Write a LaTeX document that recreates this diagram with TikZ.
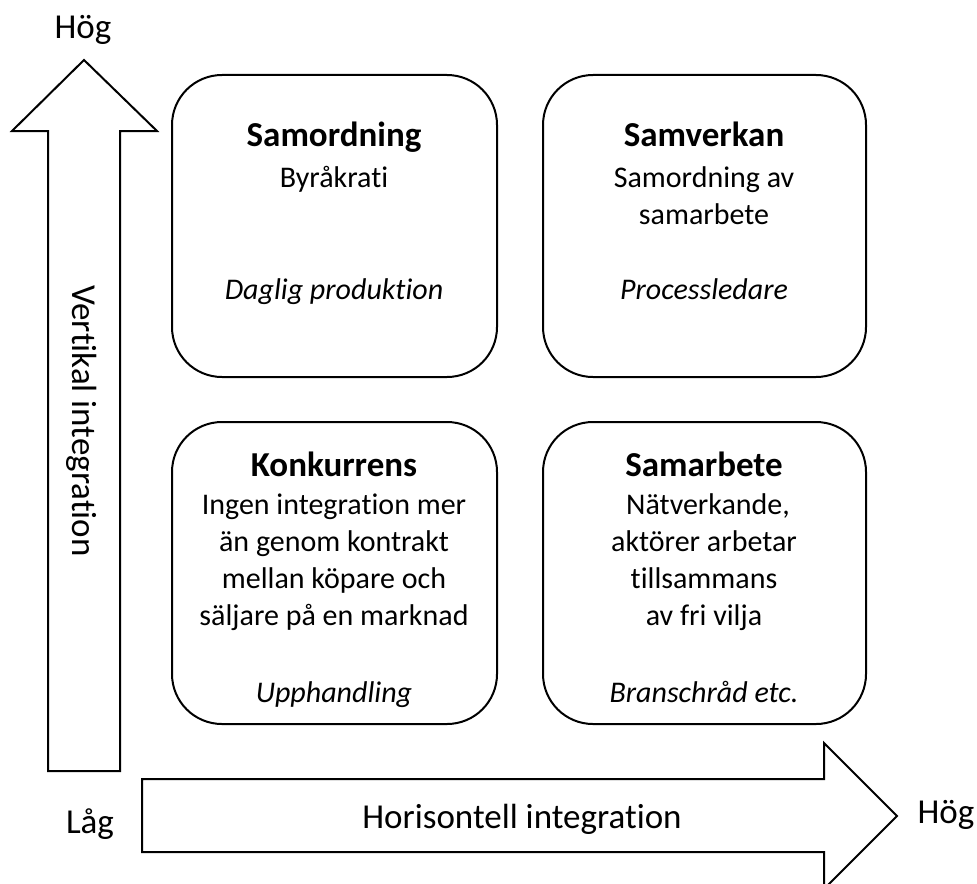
\documentclass[tikz,border=0pt]{standalone}
\usepackage{fontspec}
\setmainfont{Carlito}[Ligatures=CommonOff]
\begin{document}
\begin{tikzpicture}[x=0.5pt,y=-0.5pt,
  outline/.style={draw=black,line width=1pt,line join=miter},
  cell/.style={draw=black,line width=1pt,rounded corners=25pt},
  axislabel/.style={font=\fontsize{17.5}{21}\selectfont,inner sep=0pt,anchor=base},
  celltitle/.style={font=\fontsize{17.5}{21}\selectfont\bfseries,inner sep=0pt,anchor=base},
  celltext/.style={font=\fontsize{15}{18.5}\selectfont,inner sep=0pt,anchor=base},
  cellnote/.style={font=\fontsize{15}{18.5}\selectfont\itshape,inner sep=0pt,anchor=base}]
\useasboundingbox (0,0) rectangle (977,883);

% vertical block arrow
\draw[outline] (48,771) -- (48,131) -- (12,131) -- (84,60) -- (157,131)
  -- (120,131) -- (120,771) -- cycle;
% horizontal block arrow
\draw[outline] (142,779) -- (824,779) -- (824,743) -- (897,816) -- (824,889)
  -- (824,852) -- (142,852) -- cycle;

% axis labels
\node[axislabel] (ytop) at (83,39) {Hög};
\node[axislabel] (xlow) at (90,833) {Låg};
\node[axislabel] (xtop) at (946,823) {Hög};
\node[axislabel] (xname) at (522,828) {Horisontell integration};
\node[axislabel,rotate=-90] (yname) at (72,421) {Vertikal integration};

% four cells
\draw[cell] (172,75) rectangle (497,377);
\draw[cell] (543,75) rectangle (866,377);
\draw[cell] (172,422) rectangle (497,724);
\draw[cell] (543,422) rectangle (866,724);

% top left
\node[celltitle] (tlt) at (334,146) {Samordning};
\node[celltext] (tl1) at (334,187) {Byråkrati};
\node[cellnote] (tln) at (334,299) {Daglig produktion};

% top right
\node[celltitle] (trt) at (704,146) {Samverkan};
\node[celltext] (tr1) at (704,187) {Samordning av};
\node[celltext] (tr2) at (704,224) {samarbete};
\node[cellnote] (trn) at (704,299) {Processledare};

% bottom left
\node[celltitle] (blt) at (334,476) {Konkurrens};
\node[celltext] (bl1) at (334,514) {Ingen integration mer};
\node[celltext] (bl2) at (334,551) {än genom kontrakt};
\node[celltext] (bl3) at (334,588) {mellan köpare och};
\node[celltext] (bl4) at (334,625) {säljare på en marknad};
\node[cellnote] (bln) at (334,702) {Upphandling};

% bottom right
\node[celltitle] (brt) at (704,476) {Samarbete};
\node[celltext] (br1) at (708,514) {Nätverkande,};
\node[celltext] (br2) at (704,551) {aktörer arbetar};
\node[celltext] (br3) at (704,588) {tillsammans};
\node[celltext] (br4) at (704,625) {av fri vilja};
\node[cellnote] (brn) at (704,702) {Branschråd etc.};
\end{tikzpicture}
\end{document}
